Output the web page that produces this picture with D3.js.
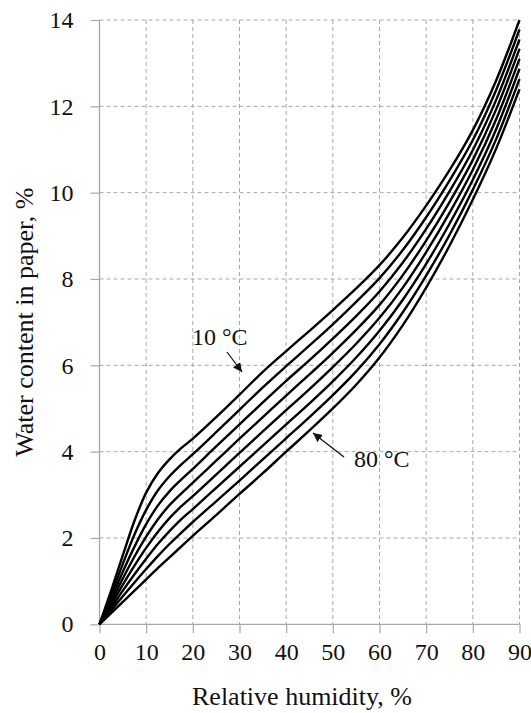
<!DOCTYPE html>
<html><head><meta charset="utf-8">
<script src="https://cdn.jsdelivr.net/npm/d3@7"></script>
<style>
html,body{margin:0;padding:0;background:#fff;}
svg{display:block;}
text{font-family:"Liberation Serif","DejaVu Serif",serif;fill:#111;}
</style></head>
<body>
<script>
// ---- data ----
const humidity = [0, 2.5, 5, 7.5, 10, 12.5, 15, 17.5, 20, 25, 30, 35, 40, 45, 50, 55, 60, 65, 70, 75, 80, 85, 90];
const t10 = [0, 0.78, 1.6, 2.4, 3.05, 3.5, 3.82, 4.08, 4.3, 4.8, 5.32, 5.85, 6.33, 6.8, 7.28, 7.78, 8.32, 8.96, 9.7, 10.52, 11.45, 12.6, 14.0];
const t20 = [0, 0.68, 1.4, 2.08, 2.65, 3.1, 3.43, 3.7, 3.94, 4.45, 4.97, 5.49, 5.98, 6.46, 6.95, 7.47, 8.02, 8.67, 9.43, 10.28, 11.22, 12.38, 13.78];
const t30 = [0, 0.6, 1.22, 1.8, 2.32, 2.75, 3.08, 3.35, 3.6, 4.12, 4.63, 5.14, 5.64, 6.12, 6.62, 7.14, 7.71, 8.38, 9.16, 10.03, 10.99, 12.15, 13.55];
const t40 = [0, 0.52, 1.06, 1.57, 2.03, 2.43, 2.76, 3.03, 3.28, 3.79, 4.3, 4.8, 5.3, 5.79, 6.29, 6.82, 7.4, 8.09, 8.89, 9.78, 10.76, 11.93, 13.33];
const t50 = [0, 0.45, 0.92, 1.36, 1.77, 2.14, 2.46, 2.73, 2.97, 3.47, 3.97, 4.47, 4.96, 5.45, 5.96, 6.5, 7.1, 7.8, 8.62, 9.53, 10.53, 11.7, 13.1];
const t60 = [0, 0.38, 0.78, 1.16, 1.52, 1.86, 2.16, 2.43, 2.67, 3.16, 3.65, 4.14, 4.63, 5.12, 5.63, 6.18, 6.8, 7.52, 8.35, 9.28, 10.3, 11.47, 12.87];
const t70 = [0, 0.32, 0.65, 0.97, 1.28, 1.58, 1.86, 2.12, 2.37, 2.85, 3.33, 3.82, 4.31, 4.8, 5.31, 5.86, 6.49, 7.23, 8.08, 9.02, 10.07, 11.24, 12.63];
const t80 = [0, 0.26, 0.52, 0.78, 1.04, 1.3, 1.55, 1.8, 2.05, 2.53, 3.02, 3.5, 4.0, 4.49, 5.0, 5.55, 6.18, 6.93, 7.8, 8.77, 9.84, 11.02, 12.4];
const seriesNames = ["10 °C", "20 °C", "30 °C", "40 °C", "50 °C", "60 °C", "70 °C", "80 °C"];
const seriesValues = [t10, t20, t30, t40, t50, t60, t70, t80];
const xTicks = [0, 10, 20, 30, 40, 50, 60, 70, 80, 90];
const yTicks = [0, 2, 4, 6, 8, 10, 12, 14];
const xTitle = "Relative humidity, %";
const yTitle = "Water content in paper, %";

// ---- layout ----
const W = 531, H = 713;
const m = {left: 99.5, right: 11.5, top: 20, bottom: 88.7};
const svg = d3.select("body").append("svg").attr("width", W).attr("height", H);
const x = d3.scaleLinear().domain([0, 90]).range([m.left, W - m.right]);
const y = d3.scaleLinear().domain([0, 14]).range([H - m.bottom, m.top]);
const gridColor = "#a8a8a8";

// grid
const g = svg.append("g");
g.selectAll(".vg").data(xTicks.filter(d => d > 0)).join("line")
  .attr("x1", d => x(d)).attr("x2", d => x(d))
  .attr("y1", y(14)).attr("y2", y(0))
  .attr("stroke", gridColor).attr("stroke-width", 1).attr("stroke-dasharray", "4,3");
g.selectAll(".hg").data(yTicks.filter(d => d > 0)).join("line")
  .attr("x1", x(0)).attr("x2", x(90))
  .attr("y1", d => y(d)).attr("y2", d => y(d))
  .attr("stroke", gridColor).attr("stroke-width", 1).attr("stroke-dasharray", "4,3");

// axes
const yAxis = d3.axisLeft(y).tickValues(yTicks).tickSize(9).tickPadding(17).tickFormat(d3.format("d"));
const xAxis = d3.axisBottom(x).tickValues(xTicks).tickSize(9).tickPadding(10).tickFormat(d3.format("d"));
const ya = svg.append("g").attr("transform", `translate(${x(0)},0)`).call(yAxis);
const xa = svg.append("g").attr("transform", `translate(0,${y(0)})`).call(xAxis);
[ya, xa].forEach(a => {
  a.select(".domain").attr("stroke", gridColor).attr("stroke-width", 1.3);
  a.selectAll(".tick line").attr("stroke", gridColor).attr("stroke-width", 1.2);
  a.selectAll(".tick text").attr("font-size", 24).attr("font-family", "Liberation Serif, serif").attr("fill", "#111");
});
ya.select(".domain").attr("d", `M0,${y(14)}V${y(0)}`);
xa.select(".domain").attr("d", `M${x(0)},0H${x(90)}`);

// curves
const line = d3.line().x((d, i) => x(humidity[i])).y(d => y(d)).curve(d3.curveCatmullRom.alpha(0.5));
svg.append("g").selectAll("path").data(seriesValues).join("path")
  .attr("d", d => line(d)).attr("fill", "none").attr("stroke", "#000")
  .attr("stroke-width", 2.4).attr("stroke-linejoin", "round");

// annotations
const defs = svg.append("defs");
defs.append("marker").attr("id", "ah").attr("viewBox", "0 0 10 10").attr("refX", 10).attr("refY", 5)
  .attr("markerWidth", 9).attr("markerHeight", 9).attr("markerUnits", "userSpaceOnUse").attr("orient", "auto")
  .append("path").attr("d", "M0,0L10,5L0,10z").attr("fill", "#111");
svg.append("text").attr("x", 192).attr("y", 345).attr("font-size", 24).text(seriesNames[0]);
svg.append("line").attr("x1", 227).attr("y1", 352).attr("x2", 242).attr("y2", 372)
  .attr("stroke", "#111").attr("stroke-width", 1.2).attr("marker-end", "url(#ah)");
svg.append("text").attr("x", 354).attr("y", 467).attr("font-size", 24).text(seriesNames[7]);
svg.append("line").attr("x1", 344).attr("y1", 457).attr("x2", 313).attr("y2", 433)
  .attr("stroke", "#111").attr("stroke-width", 1.2).attr("marker-end", "url(#ah)");

// titles
svg.append("text").attr("x", 302).attr("y", 705).attr("text-anchor", "middle").attr("font-size", 26).text(xTitle);
svg.append("text").attr("transform", `translate(33,${(y(0) + y(14)) / 2}) rotate(-90)`)
  .attr("text-anchor", "middle").attr("font-size", 26).text(yTitle);
</script>
</body></html>
